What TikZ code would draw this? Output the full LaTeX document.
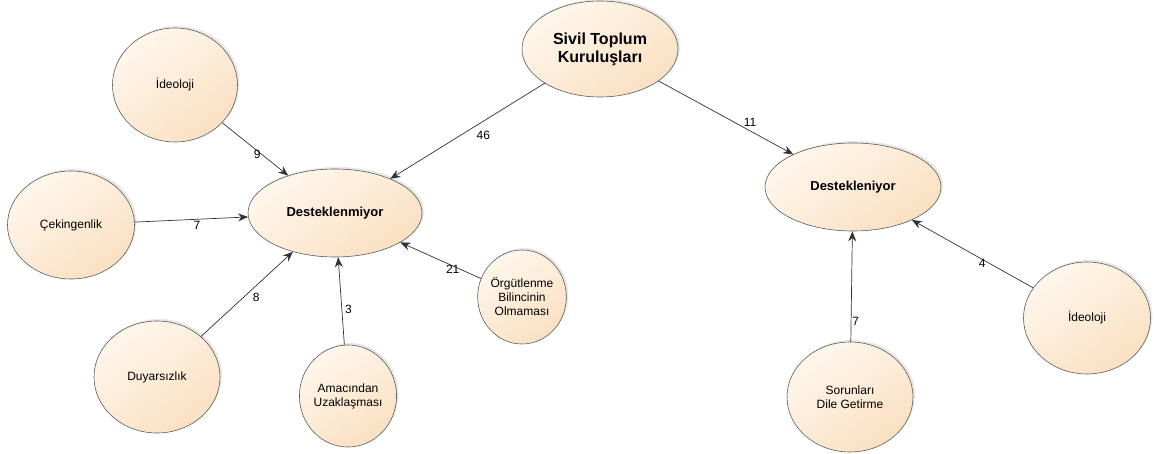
\documentclass[tikz,border=0pt]{standalone}
\usepackage{fontspec}
\setmainfont{Liberation Sans}
\usetikzlibrary{shapes.geometric,arrows.meta,shadows}
\definecolor{peachA}{RGB}{255,247,236}
\definecolor{peachB}{RGB}{250,224,194}
\definecolor{edgegray}{RGB}{50,50,50}
\tikzset{
  bub/.style={ellipse, draw=edgegray!80, line width=0.6pt, inner sep=0pt,
    top color=peachA, bottom color=peachB, shading angle=35,
    drop shadow={opacity=0.18, shadow xshift=2pt, shadow yshift=2pt},
    align=center, font=\fontsize{12}{14}\selectfont},
  big/.style={font=\fontsize{13}{15}\bfseries\selectfont},
  conn/.style={draw=edgegray, line width=0.7pt, -{Stealth[length=10pt,width=8pt]}},
  lbl/.style={font=\fontsize{12}{14}\selectfont, inner sep=1pt}
}
\begin{document}
\begin{tikzpicture}[x=1pt,y=-1pt]
\useasboundingbox (0,0) rectangle (1155,454);
% nodes
\node[bub, minimum width=156, minimum height=96,
      font=\fontsize{16}{18}\bfseries\selectfont] (stk) at (600,49) {Sivil Toplum\\Kuruluşları};
\node[bub, big, minimum width=174, minimum height=88] (dm) at (335,213) {Desteklenmiyor};
\node[bub, big, minimum width=176, minimum height=88] (dy) at (853,187) {Destekleniyor};
\node[bub, minimum width=125, minimum height=114] (ide1) at (175,85) {İdeoloji};
\node[bub, minimum width=127, minimum height=108] (cek) at (71,225) {Çekingenlik};
\node[bub, minimum width=126, minimum height=112] (duy) at (157,377) {Duyarsızlık};
\node[bub, minimum width=88, minimum height=102] (ama) at (348,396) {Amacından\\Uzaklaşması};
\node[bub, minimum width=80, minimum height=94] (org) at (522,297) {Örgütlenme\\Bilincinin\\Olmaması};
\node[bub, minimum width=126, minimum height=110] (sor) at (850,397) {Sorunları\\Dile Getirme};
\node[bub, minimum width=127, minimum height=112] (ide2) at (1087,318) {İdeoloji};
% connectors
\draw[conn] (stk) -- node[lbl, pos=0.45, anchor=north, yshift=-4pt, xshift=8pt] {46} (dm);
\draw[conn] (stk) -- node[lbl, pos=0.68, anchor=south, yshift=3pt, xshift=0pt] {11} (dy);
\draw[conn] (ide1) -- node[lbl, pos=0.6, anchor=east, xshift=0pt] {9} (dm);
\draw[conn] (cek) -- node[lbl, pos=0.55, anchor=north, yshift=-1pt] {7} (dm);
\draw[conn] (duy) -- node[lbl, pos=0.55, anchor=north west, xshift=0pt, yshift=-2pt] {8} (dm);
\draw[conn] (ama) -- node[lbl, pos=0.4, anchor=west, xshift=2pt] {3} (dm);
\draw[conn] (org) -- node[lbl, pos=0.35, anchor=north, yshift=2pt] {21} (dm);
\draw[conn] (sor) -- node[lbl, pos=0.18, anchor=west, xshift=0pt] {7} (dy);
\draw[conn] (ide2) -- node[lbl, pos=0.42, anchor=north, yshift=1pt] {4} (dy);
\end{tikzpicture}
\end{document}
